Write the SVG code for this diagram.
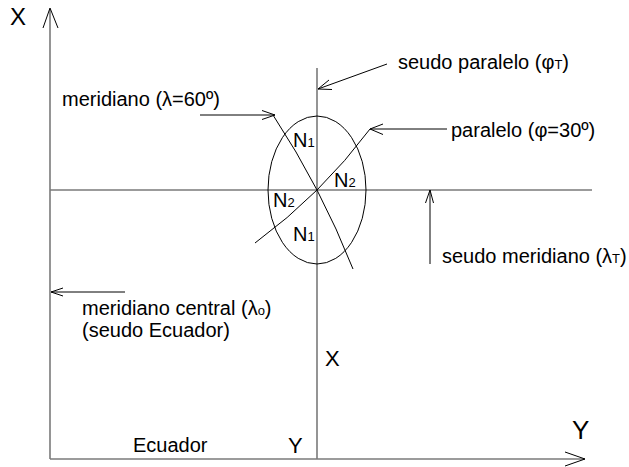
<svg xmlns="http://www.w3.org/2000/svg" width="629" height="467" viewBox="0 0 629 467">
<style>
.t{font-family:"Liberation Sans",Arial,sans-serif;font-size:20px;fill:#000}
.s{font-size:13px}
.ax{stroke:#7a7a7a;stroke-width:1.6;fill:none}
.ln{stroke:#000;stroke-width:1;fill:none}
</style>
<rect width="629" height="467" fill="#fff"/>
<g id="axes">
<line class="ax" x1="50" y1="9" x2="50" y2="459"/>
<line class="ax" x1="50" y1="459" x2="585" y2="459"/>
<line class="ax" x1="317" y1="68" x2="317" y2="459"/>
<line class="ax" x1="50" y1="190" x2="592" y2="190"/>
<polyline class="ln" points="43,28 50,8 58,28"/>
<polyline class="ln" points="565,452 585,459 565,466"/>
</g>
<g id="ellipse">
<ellipse class="ln" cx="317" cy="190" rx="49" ry="74"/>
<path class="ln" d="M273,115 Q321,188 353,269"/>
<path class="ln" d="M255,243 Q321.5,194 370,129"/>
</g>
<g id="connectors">
<line class="ln" x1="200" y1="115" x2="275" y2="115"/>
<polyline class="ln" points="262,110.5 275,115 262,119.5"/>
<line class="ln" x1="387" y1="64" x2="318" y2="89"/>
<polyline class="ln" points="329,80 318,89 332,89.5"/>
<line class="ln" x1="447" y1="129" x2="370" y2="129"/>
<polyline class="ln" points="383,124 370,129 383,134.5"/>
<line class="ln" x1="430" y1="190" x2="430" y2="264"/>
<polyline class="ln" points="425.5,203 430,190 433.5,203"/>
<line class="ln" x1="51" y1="292" x2="125" y2="292"/>
<polyline class="ln" points="63,288 51,292 63,296"/>
</g>
<g id="labels">
<text class="t" x="10" y="25" style="font-size:24px">X</text>
<text class="t" x="62" y="106">meridiano (λ=60º)</text>
<text class="t" x="398" y="69">seudo paralelo (φ<tspan class="s">T</tspan>)</text>
<text class="t" x="451" y="137">paralelo (φ=30º)</text>
<text class="t" x="442" y="263">seudo meridiano (λ<tspan class="s">T</tspan>)</text>
<text class="t" x="82" y="315">meridiano central (λ<tspan class="s">o</tspan>)</text>
<text class="t" x="82" y="337">(seudo Ecuador)</text>
<text class="t" x="325" y="366" style="font-size:22px">X</text>
<text class="t" x="133" y="452">Ecuador</text>
<text class="t" x="288" y="453" style="font-size:22px">Y</text>
<text class="t" x="572" y="439" style="font-size:26px">Y</text>
</g>
<g id="n-labels">
<text class="t" x="293" y="147">N<tspan class="s">1</tspan></text>
<text class="t" x="334" y="187">N<tspan class="s">2</tspan></text>
<text class="t" x="273" y="207">N<tspan class="s">2</tspan></text>
<text class="t" x="293" y="241">N<tspan class="s">1</tspan></text>
</g>
</svg>
